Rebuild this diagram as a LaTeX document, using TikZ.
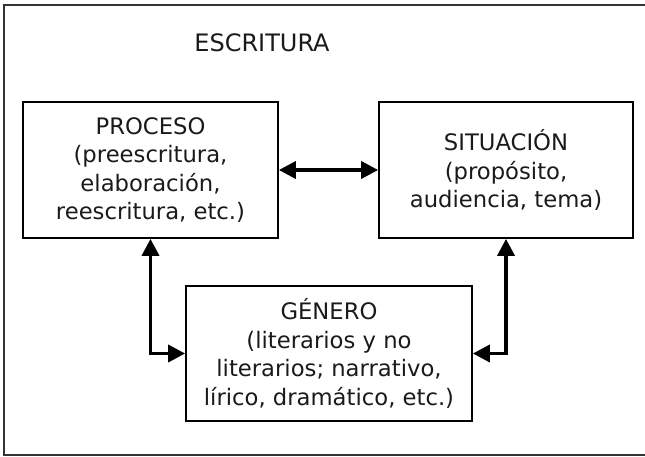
\documentclass[tikz,border=0pt]{standalone}
\usepackage{fontspec}
\setmainfont{DejaVu Sans}
\usetikzlibrary{arrows.meta}
\definecolor{txt}{HTML}{1A1A1A}
\begin{document}
\begin{tikzpicture}[x=1pt,y=-1pt,
  box/.style={draw=black, line width=1.7pt, inner sep=0pt, align=center,
    text=txt, font=\fontsize{22.7}{28.5}\selectfont},
  link/.style={line width=3.6pt, {Triangle[length=17pt,width=17pt]}-{Triangle[length=17pt,width=17pt]}},
  frame/.style={draw=black!80, line width=2pt}]
\useasboundingbox (0,0) rectangle (645,457);
\coordinate (ftr) at (646,5);
\coordinate (ftl) at (4,5);
\coordinate (fbl) at (4,455);
\coordinate (fbr) at (646,455);
\draw[frame] (ftr) -- (ftl) -- (fbl) -- (fbr);
\node[text=txt, font=\fontsize{24}{28}\selectfont] (title) at (262,43) {ESCRITURA};
\node[box, minimum width=255pt, minimum height=136pt] (proc) at (150.5,170)
  {PROCESO\\(preescritura,\\elaboración,\\reescritura, etc.)};
\node[box, minimum width=254pt, minimum height=136pt] (sit) at (506,170)
  {SITUACIÓN\\(propósito,\\audiencia, tema)};
\node[box, minimum width=286pt, minimum height=135pt] (gen) at (329,353.5)
  {GÉNERO\\(literarios y no\\literarios; narrativo,\\lírico, dramático, etc.)};
\draw[link] (proc.east) -- (sit.west);
\draw[link] (proc.south) |- (gen.west);
\draw[link] (sit.south) |- (gen.east);
\end{tikzpicture}
\end{document}
